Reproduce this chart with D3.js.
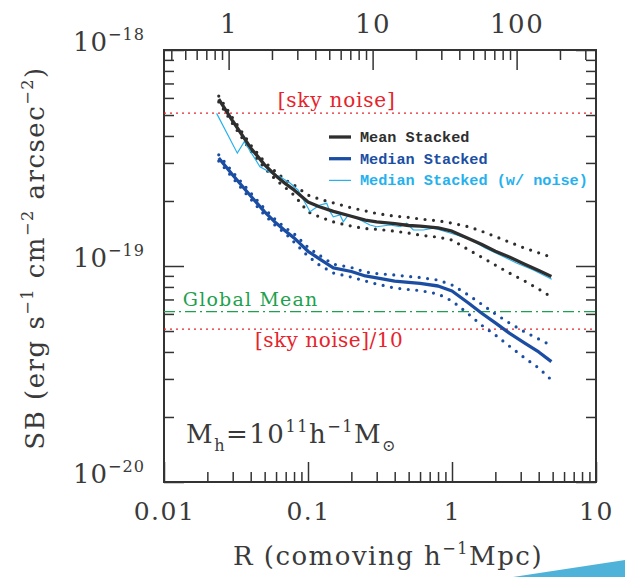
<!DOCTYPE html>
<html><head><meta charset="utf-8">
<script src="https://cdn.jsdelivr.net/npm/d3@7"></script>
<style>body{margin:0;background:#fff}svg{display:block}</style>
</head><body>
<svg id="chart" width="625" height="577"></svg>
<script>
// ---------------- DATA (SB in units of 1e-19 erg s^-1 cm^-2 arcsec^-2) ----------------
const radius = [0.024,0.03,0.04,0.05,0.06,0.07,0.08,0.1,0.12,0.15,0.2,0.25,0.3,0.4,0.5,0.6,0.8,1.0,1.3,1.6,2.0,2.5,3.2,4.0,4.9];
const meanStacked = [5.93,4.69,3.52,2.94,2.61,2.40,2.25,1.98,1.88,1.79,1.70,1.63,1.60,1.57,1.54,1.53,1.50,1.45,1.34,1.26,1.17,1.10,1.02,0.953,0.894];
const meanHigh    = [6.12,4.84,3.63,3.03,2.72,2.50,2.37,2.13,2.04,1.96,1.86,1.80,1.75,1.70,1.68,1.65,1.62,1.58,1.52,1.45,1.37,1.29,1.21,1.15,1.10];
const meanLow     = [5.75,4.55,3.41,2.84,2.50,2.30,2.13,1.78,1.69,1.60,1.53,1.49,1.48,1.45,1.42,1.39,1.36,1.32,1.19,1.10,1.01,0.928,0.852,0.782,0.719];
const medianStacked = [3.16,2.64,2.11,1.78,1.58,1.45,1.35,1.17,1.08,0.979,0.943,0.899,0.880,0.852,0.839,0.830,0.808,0.766,0.674,0.606,0.545,0.489,0.440,0.400,0.361];
const medianHigh    = [3.27,2.72,2.18,1.84,1.63,1.50,1.41,1.22,1.12,1.02,0.984,0.938,0.923,0.908,0.894,0.885,0.861,0.817,0.734,0.667,0.600,0.545,0.495,0.459,0.428];
const medianLow     = [3.06,2.56,2.04,1.72,1.53,1.41,1.29,1.11,1.01,0.928,0.889,0.852,0.825,0.791,0.778,0.770,0.742,0.689,0.600,0.533,0.479,0.426,0.375,0.337,0.297];
const noiseRadius = [0.0232,0.0323,0.0361,0.0464,0.0560,0.0639,0.0750,0.0852,0.1033,0.1118,0.1211,0.1349,0.1422,0.1498,0.1668,0.1759,0.1905,0.2179,0.2696,0.3000,0.3710,0.4353,0.4847,0.5386,0.6321,0.7417,0.8254,1.078,1.334,1.70,2.154,2.80,3.669,4.925];
const medianNoise = [5.09,3.33,3.76,2.88,2.69,2.59,2.42,2.25,1.784,1.85,1.916,1.951,1.784,1.691,1.722,1.603,1.722,1.663,1.548,1.520,1.548,1.520,1.577,1.468,1.468,1.495,1.468,1.392,1.329,1.212,1.124,1.033,0.958,0.868];
const skyNoise = 5.1;      // 1e-19
const globalMean = 0.615;  // 1e-19
const unit = 1e-19;

const xTicksMajor = [0.01, 0.1, 1, 10];
const xTickLabels = ["0.01", "0.1", "1", "10"];
const topTicksMajor = [1, 10, 100];
const topTickLabels = ["1", "10", "100"];
const yTicksMajor = [1e-20, 1e-19, 1e-18];
const yTickExponents = ["\u221220", "\u221219", "\u221218"];
const mpcPerArcsec = 0.0281;

const legendItems = ["Mean Stacked", "Median Stacked", "Median Stacked (w/ noise)"];

// ---------------- STYLE ----------------
const C = {axis:"#333333", text:"#3a3a3a", mean:"#2e2e2e", median:"#1b4ea3", noise:"#25b1ee", red:"#e6232b", green:"#1ea14e"};
const serif = "'DejaVu Serif', serif";
const mono = "'Liberation Mono', 'DejaVu Sans Mono', monospace";

const L = 164, R = 596, T = 50, B = 482;
const svg = d3.select("#chart");
const x = d3.scaleLog().domain([0.01, 10]).range([L, R]);
const y = d3.scaleLog().domain([1e-20, 1e-18]).range([B, T]);
const xTop = d3.scaleLog().domain([0.01/mpcPerArcsec, 10/mpcPerArcsec]).range([L, R]);

function rich(textSel, parts, size) {
  let cur = 0;
  parts.forEach(([t, k]) => {
    let target = 0, fs = size;
    if (k === "sup") { target = -size*0.42; fs = size*0.62; }
    if (k === "sub") { target = size*0.3; fs = size*0.62; }
    textSel.append("tspan").attr("font-size", fs).attr("dy", target - cur).text(t);
    cur = target;
  });
}

// ---------------- AXES ----------------
function styleAxis(g) {
  g.select(".domain").remove();
  g.selectAll(".tick line").attr("stroke", C.axis).attr("stroke-width", 1.5);
  g.selectAll(".tick text").attr("fill", C.text).attr("font-family", serif).attr("letter-spacing", 1.5);
}
const minorX = x.ticks().filter(v => !xTicksMajor.some(m => Math.abs(m - v) < 1e-9));
const minorTop = xTop.ticks().filter(v => !topTicksMajor.some(m => Math.abs(m - v) < 1e-9));
const minorY = y.ticks().filter(v => !yTicksMajor.some(m => Math.abs(m / v - 1) < 1e-6));

// bottom
svg.append("g").attr("transform", `translate(0,${B})`)
  .call(d3.axisBottom(x).tickValues(minorX).tickSize(-10).tickFormat(""))
  .call(styleAxis);
svg.append("g").attr("transform", `translate(0,${B})`)
  .call(d3.axisBottom(x).tickValues(xTicksMajor).tickSize(-20).tickPadding(20)
        .tickFormat((d, i) => xTickLabels[i]))
  .call(styleAxis)
  .call(g => g.selectAll(".tick text").attr("font-size", 25).attr("dy", "0.71em"));
// top
svg.append("g").attr("transform", `translate(0,${T})`)
  .call(d3.axisTop(xTop).tickValues(minorTop).tickSize(-10).tickFormat(""))
  .call(styleAxis);
svg.append("g").attr("transform", `translate(0,${T})`)
  .call(d3.axisTop(xTop).tickValues(topTicksMajor).tickSize(-20).tickPadding(17)
        .tickFormat((d, i) => topTickLabels[i]))
  .call(styleAxis)
  .call(g => g.selectAll(".tick text").attr("font-size", 26));
// left
svg.append("g").attr("transform", `translate(${L},0)`)
  .call(d3.axisLeft(y).tickValues(minorY).tickSize(-10).tickFormat(""))
  .call(styleAxis);
const yMaj = svg.append("g").attr("transform", `translate(${L},0)`)
  .call(d3.axisLeft(y).tickValues(yTicksMajor).tickSize(-20).tickPadding(19).tickFormat(""))
  .call(styleAxis);
yMaj.selectAll(".tick text").attr("dy", 12).attr("font-size", 26).attr("letter-spacing", 1)
  .each(function(d, i) { rich(d3.select(this), [["10", "n"], [yTickExponents[i], "sup"]], 26); });
// right
svg.append("g").attr("transform", `translate(${R},0)`)
  .call(d3.axisRight(y).tickValues(minorY).tickSize(-10).tickFormat(""))
  .call(styleAxis);
svg.append("g").attr("transform", `translate(${R},0)`)
  .call(d3.axisRight(y).tickValues(yTicksMajor).tickSize(-20).tickFormat(""))
  .call(styleAxis);

// frame
svg.append("rect").attr("x", L).attr("y", T).attr("width", R - L).attr("height", B - T)
  .attr("fill", "none").attr("stroke", C.axis).attr("stroke-width", 2);

// ---------------- REFERENCE LINES ----------------
svg.append("line").attr("x1", L).attr("x2", R).attr("y1", y(skyNoise*unit)).attr("y2", y(skyNoise*unit))
  .attr("stroke", C.red).attr("stroke-width", 1.3).attr("stroke-dasharray", "2 4");
svg.append("line").attr("x1", L).attr("x2", R).attr("y1", y(skyNoise/10*unit)).attr("y2", y(skyNoise/10*unit))
  .attr("stroke", C.red).attr("stroke-width", 1.3).attr("stroke-dasharray", "2 4");
svg.append("line").attr("x1", L).attr("x2", R).attr("y1", y(globalMean*unit)).attr("y2", y(globalMean*unit))
  .attr("stroke", C.green).attr("stroke-width", 1.4).attr("stroke-dasharray", "11 4 2 4");

svg.append("text").attr("x", x(0.158)).attr("y", y(skyNoise*unit) - 6).attr("text-anchor", "middle")
  .attr("font-family", serif).attr("font-size", 20).attr("fill", C.red).attr("letter-spacing", 0.8).text("[sky noise]");
svg.append("text").attr("x", x(0.0428)).attr("y", y(skyNoise/10*unit) + 18)
  .attr("font-family", serif).attr("font-size", 20).attr("fill", C.red).attr("letter-spacing", 0.5).text("[sky noise]/10");
svg.append("text").attr("x", x(0.0135)).attr("y", y(globalMean*unit) - 6)
  .attr("font-family", serif).attr("font-size", 19).attr("fill", C.green).attr("letter-spacing", 1.2).text("Global Mean");

// ---------------- CURVES ----------------
const line = d3.line().x(d => x(d[0])).y(d => y(d[1]*unit));
const zip = (xs, ys) => xs.map((v, i) => [v, ys[i]]);
const g = svg.append("g");
function dotted(vals, color) {
  g.append("path").attr("d", line(zip(radius, vals))).attr("fill", "none")
    .attr("stroke", color).attr("stroke-width", 3.2).attr("stroke-linecap", "round")
    .attr("stroke-dasharray", "0 8.5");
}
dotted(meanHigh, C.mean); dotted(meanLow, C.mean);
dotted(medianHigh, C.median); dotted(medianLow, C.median);
g.append("path").attr("d", line(zip(noiseRadius, medianNoise))).attr("fill", "none")
  .attr("stroke", C.noise).attr("stroke-width", 1.2);
g.append("path").attr("d", line(zip(radius, meanStacked))).attr("fill", "none")
  .attr("stroke", C.mean).attr("stroke-width", 3.3).attr("stroke-linejoin", "round");
g.append("path").attr("d", line(zip(radius, medianStacked))).attr("fill", "none")
  .attr("stroke", C.median).attr("stroke-width", 3.3).attr("stroke-linejoin", "round");

// ---------------- LEGEND ----------------
const legColors = [C.mean, C.median, C.noise];
const legWidths = [3.3, 3.3, 1.2];
legendItems.forEach((name, i) => {
  const yy = 137 + i * 21.7;
  svg.append("line").attr("x1", 329).attr("x2", 351).attr("y1", yy).attr("y2", yy)
    .attr("stroke", legColors[i]).attr("stroke-width", legWidths[i]);
  svg.append("text").attr("x", 360).attr("y", yy + 5).attr("font-family", mono).attr("font-weight", "bold")
    .attr("font-size", 15.2).attr("fill", legColors[i]).text(name);
});

// ---------------- LABELS ----------------
const mh = svg.append("text").attr("x", 186).attr("y", 443).attr("font-family", serif)
  .attr("font-size", 26).attr("letter-spacing", 1.5).attr("fill", C.text);
rich(mh, [["M","n"],["h","sub"],["=10","n"],["11","sup"],["h","n"],["\u22121","sup"],["M","n"],["\u2299","sub"]], 26);

const xt = svg.append("text").attr("x", (L + R) / 2 + 8).attr("y", 565).attr("text-anchor", "middle")
  .attr("font-family", serif).attr("font-size", 26).attr("letter-spacing", 1.5).attr("fill", C.text);
rich(xt, [["R (comoving h","n"],["\u22121","sup"],["Mpc)","n"]], 26);

const yt = svg.append("text").attr("transform", `translate(44,${(T + B) / 2 - 8}) rotate(-90)`)
  .attr("text-anchor", "middle").attr("font-family", serif).attr("font-size", 26)
  .attr("letter-spacing", 1.5).attr("fill", C.text);
rich(yt, [["SB (erg s","n"],["\u22121","sup"],[" cm","n"],["\u22122","sup"],[" arcsec","n"],["\u22122","sup"],[")","n"]], 26);

// decorative corner wedge from the original image
svg.append("polygon").attr("points", "513,577 625,560 625,577").attr("fill", "#4fb3d9");
</script>
</body></html>
